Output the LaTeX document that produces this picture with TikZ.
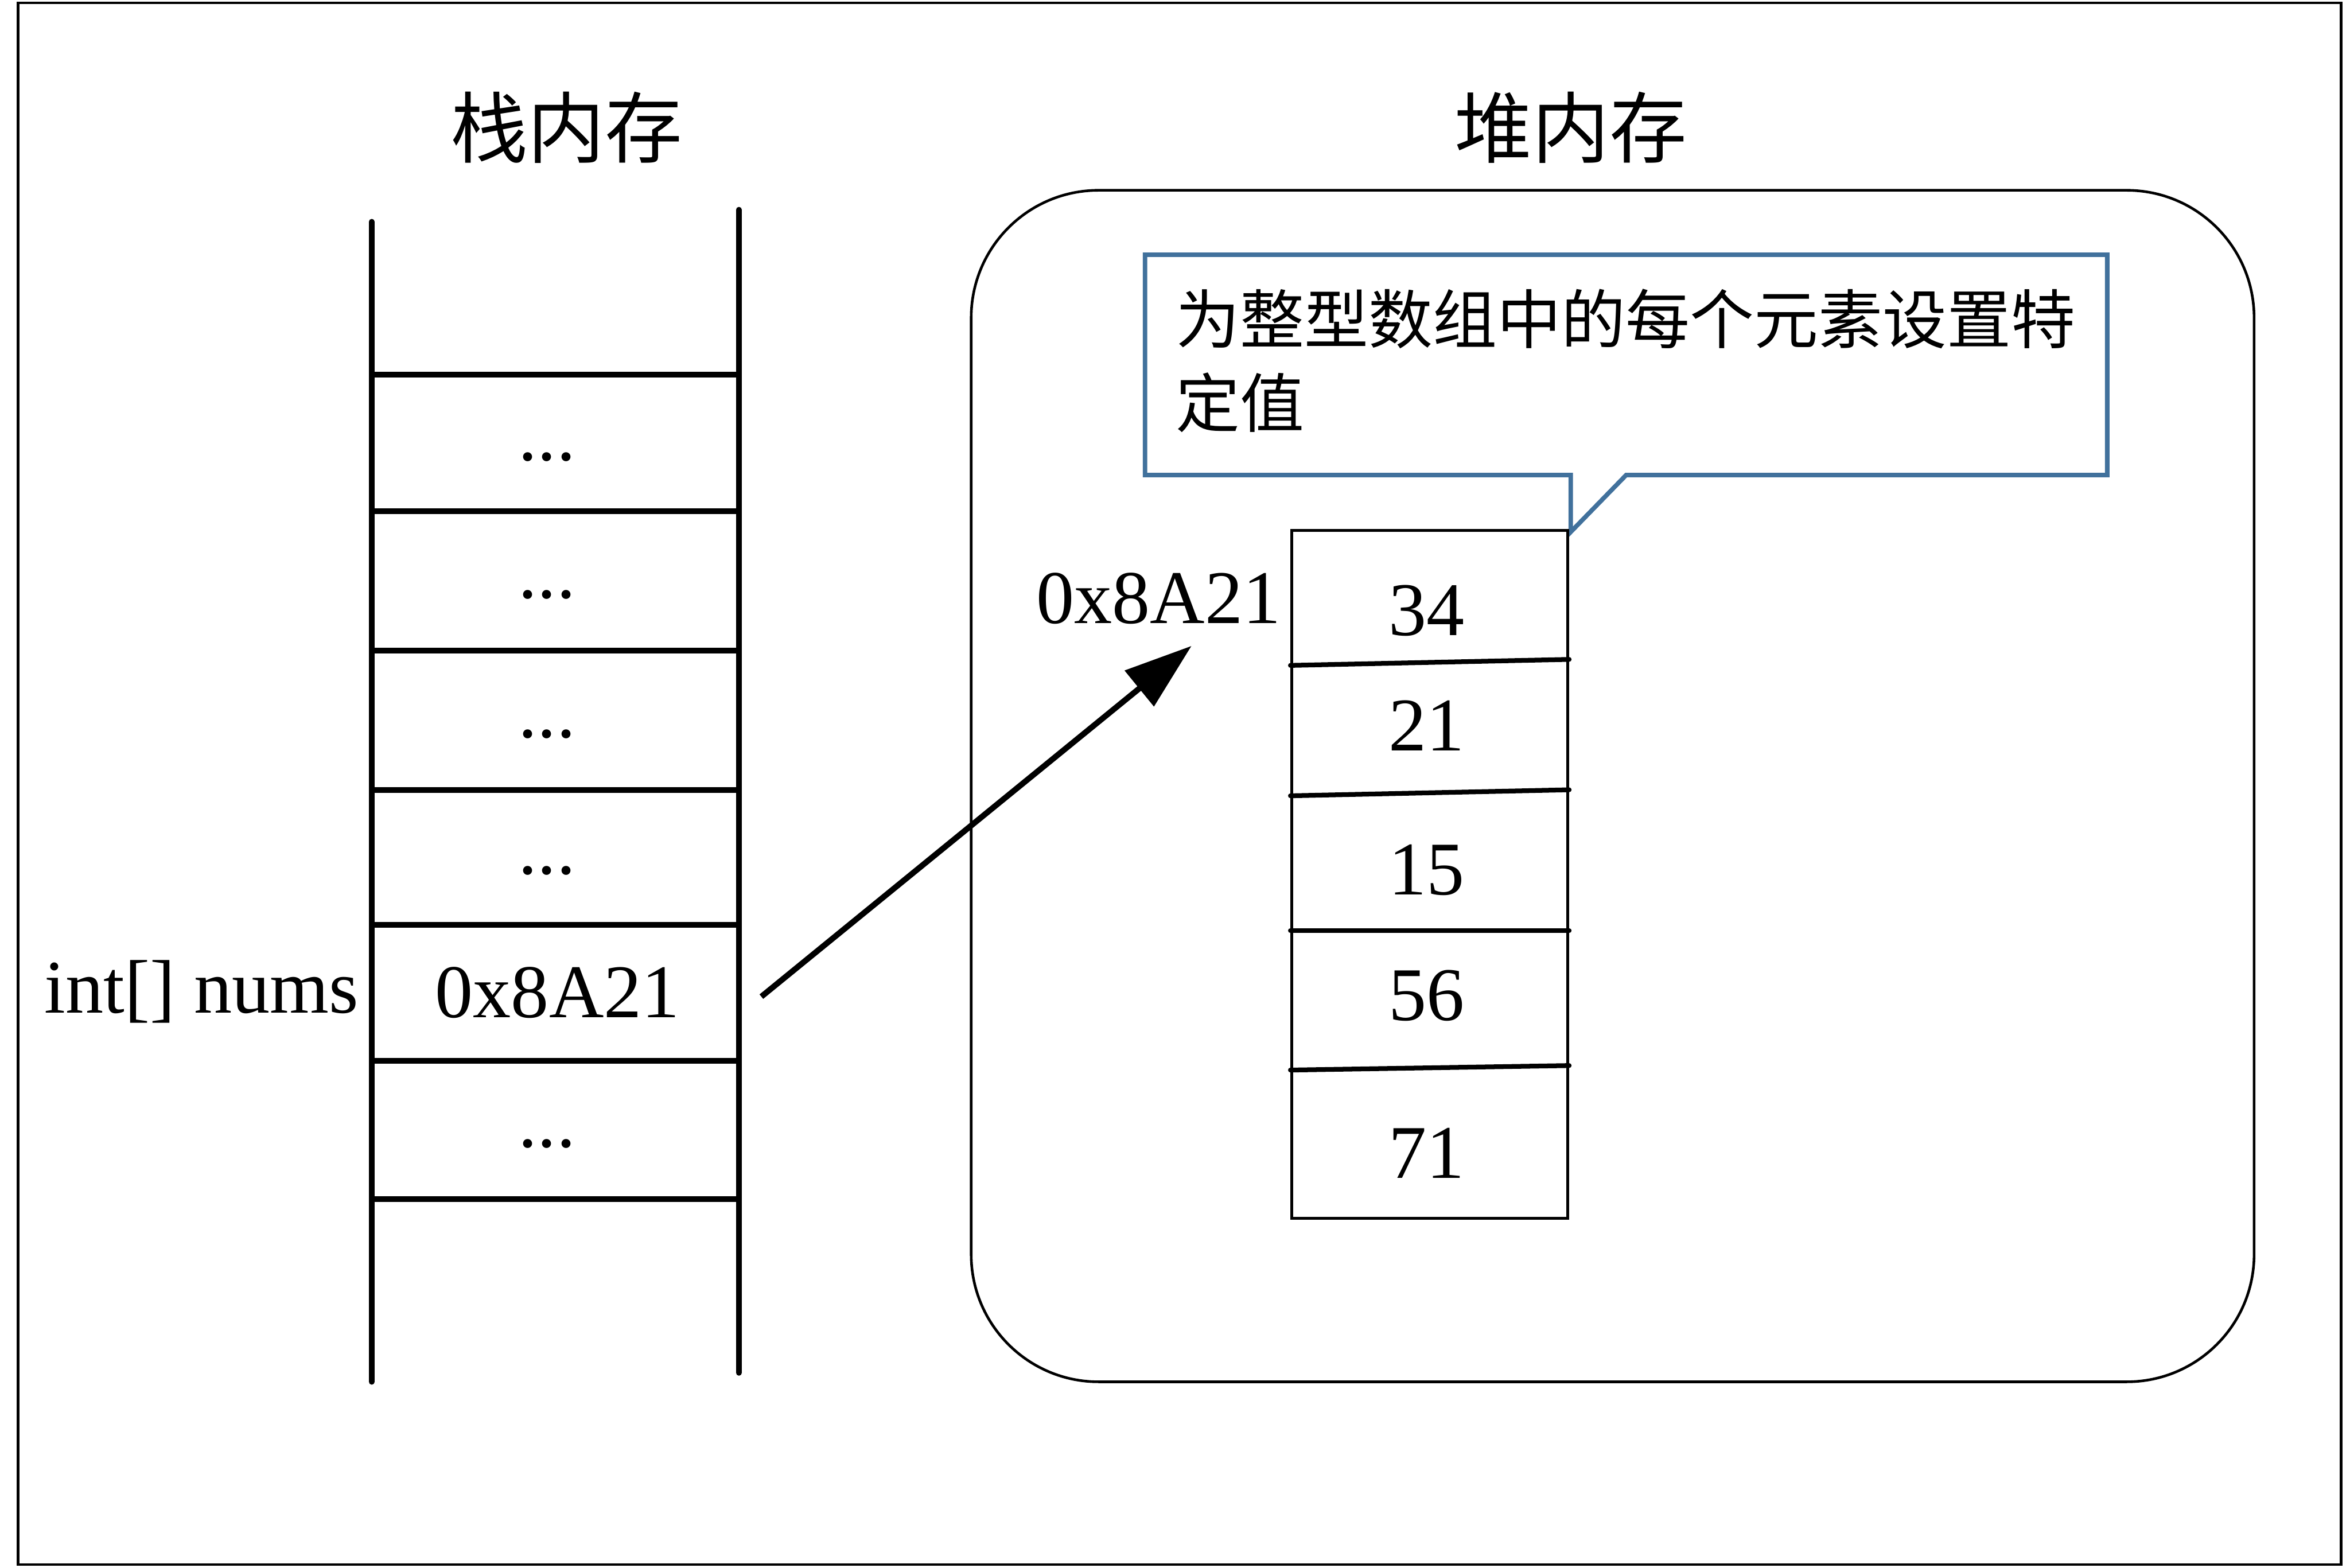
\documentclass[tikz,border=0pt]{standalone}
\usepackage{fontspec}
\setmainfont{Liberation Serif}
\newfontfamily\cjk{Noto Sans CJK SC}
\usepackage{xcolor}
\usetikzlibrary{arrows.meta}
\definecolor{ink}{HTML}{000000}
\definecolor{callblue}{HTML}{41719C}

\begin{document}
\begin{tikzpicture}[font=\fontsize{14.4}{17}\selectfont,
  thickrule/.style={ink,line width=1.1pt,line cap=round},
  thinrule/.style={ink,line width=0.5pt},
  celltext/.style={inner sep=0pt,anchor=base},
  titletext/.style={inner sep=0pt,font=\cjk\fontsize{14.7}{17}\selectfont}]
\useasboundingbox (0,0) rectangle (15.68,10.46);
\draw[thinrule] (0.12,0.02) rectangle (15.62,10.44);
% stack memory
\node[titletext] (stacktitle) at (3.78,9.61) {栈内存};
\draw[thickrule] (2.48,8.98) -- (2.48,1.24);
\draw[thickrule] (4.93,9.06) -- (4.93,1.30);
\draw[thickrule,line cap=butt] (2.48,7.96) -- (4.93,7.96) (2.48,7.05) -- (4.93,7.05)
  (2.48,6.12) -- (4.93,6.12) (2.48,5.19) -- (4.93,5.19) (2.48,4.29) -- (4.93,4.29)
  (2.48,3.38) -- (4.93,3.38) (2.48,2.46) -- (4.93,2.46);
\node[inner sep=0pt] (cellA) at (3.65,7.41) {...};
\node[inner sep=0pt] (cellB) at (3.65,6.49) {...};
\node[inner sep=0pt] (cellC) at (3.65,5.56) {...};
\node[inner sep=0pt] (cellD) at (3.65,4.65) {...};
\node[celltext] (cellE) at (3.72,3.67) {0x8A21};
\node[inner sep=0pt] (cellF) at (3.65,2.83) {...};
\node[celltext,anchor=base east] (varname) at (2.40,3.70) {int[] nums};
% heap memory
\node[titletext] (heaptitle) at (10.48,9.61) {堆内存};
\draw[thinrule,rounded corners=0.85cm] (6.48,1.24) rectangle (15.04,9.19);
\draw[callblue,line width=0.85pt,fill=white] (7.64,8.76) -- (14.06,8.76) -- (14.06,7.29)
  -- (10.85,7.29) -- (10.48,6.91) -- (10.48,7.29) -- (7.64,7.29) -- cycle;
\node[anchor=north west,align=left,inner sep=0pt,font=\cjk\fontsize{12.2}{15.9}\selectfont] (note)
  at (7.84,8.54) {为整型数组中的每个元素设置特\\定值};
\draw[thinrule] (8.62,2.33) rectangle (10.46,6.92);
\draw[thickrule,line width=0.9pt] (8.61,6.02) -- (10.47,6.06);
\draw[thickrule,line width=0.9pt] (8.61,5.15) -- (10.47,5.19);
\draw[thickrule,line width=0.9pt] (8.61,4.25) -- (10.47,4.25);
\draw[thickrule,line width=0.9pt] (8.61,3.32) -- (10.47,3.35);
\node[celltext] (elemA) at (9.52,6.22) {34};
\node[celltext] (elemB) at (9.52,5.45) {21};
\node[celltext] (elemC) at (9.52,4.49) {15};
\node[celltext] (elemD) at (9.52,3.65) {56};
\node[celltext] (elemE) at (9.52,2.60) {71};
\node[celltext] (heapaddr) at (7.73,6.30) {0x8A21};
% reference arrow
\coordinate (refstart) at (5.08,3.81);
\coordinate (refend) at (7.95,6.15);
\draw[ink,line width=1.1pt,-{Triangle[length=0.45cm,width=0.30cm]}] (refstart) -- (refend);
\end{tikzpicture}
\end{document}
